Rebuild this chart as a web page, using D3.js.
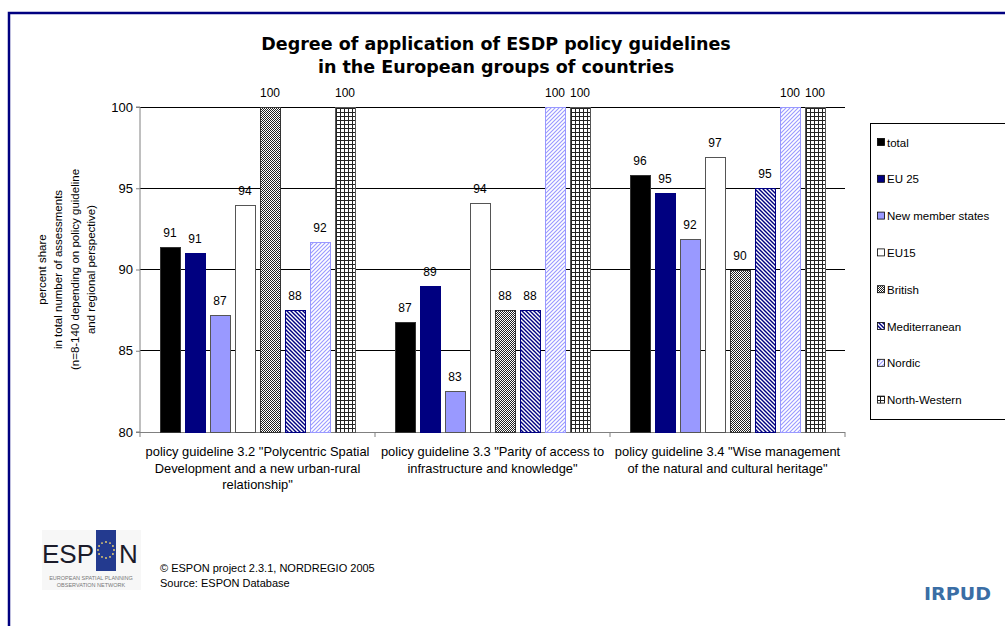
<!DOCTYPE html>
<html><head><meta charset="utf-8">
<script src="https://cdn.jsdelivr.net/npm/d3@7"></script>
<style>body{margin:0;background:#fff}svg{display:block}</style>
</head><body>
<svg id="c" width="1005" height="626"></svg>
<script>
const categories = [
  ['policy guideline 3.2 "Polycentric Spatial', 'Development and a new urban-rural', 'relationship"'],
  ['policy guideline 3.3 "Parity of access to', 'infrastructure and knowledge"'],
  ['policy guideline 3.4 "Wise management', 'of the natural and cultural heritage"']
];
const seriesNames = ["total","EU 25","New member states","EU15","British","Mediterranean","Nordic","North-Western"];
const total        = [91.4, 86.8, 95.8];
const eu25         = [91.0, 89.0, 94.7];
const newMember    = [87.2, 82.5, 91.9];
const eu15         = [94.0, 94.1, 96.9];
const british      = [100, 87.5, 90.0];
const mediterranean= [87.5, 87.5, 95.0];
const nordic       = [91.7, 100, 100];
const northWestern = [100, 100, 100];
const yTicks = [80, 85, 90, 95, 100];
const seriesValues = [total, eu25, newMember, eu15, british, mediterranean, nordic, northWestern];

const svg = d3.select("#c");
const defs = svg.append("defs");
// patterns
const pBr = defs.append("pattern").attr("id","pBr").attr("width",2).attr("height",2).attr("patternUnits","userSpaceOnUse");
pBr.append("rect").attr("width",2).attr("height",2).attr("fill","#fff");
pBr.append("rect").attr("width",1).attr("height",1).attr("fill","#222");
pBr.append("rect").attr("x",1).attr("y",1).attr("width",1).attr("height",1).attr("fill","#222");
const pMed = defs.append("pattern").attr("id","pMed").attr("width",4).attr("height",4).attr("patternUnits","userSpaceOnUse");
pMed.append("rect").attr("width",4).attr("height",4).attr("fill","#fff");
pMed.append("path").attr("d","M-1,-1L5,5M-1,3L1,5M3,-1L5,1").attr("stroke","#000080").attr("stroke-width",1.4);
const pNo = defs.append("pattern").attr("id","pNo").attr("width",4).attr("height",4).attr("patternUnits","userSpaceOnUse");
pNo.append("rect").attr("width",4).attr("height",4).attr("fill","#fff");
pNo.append("path").attr("d","M-1,5L5,-1M-1,1L1,-1M3,5L5,3").attr("stroke","#9999ff").attr("stroke-width",1.1);
const pNW = defs.append("pattern").attr("id","pNW").attr("width",4).attr("height",4).attr("patternUnits","userSpaceOnUse");
pNW.append("rect").attr("width",4).attr("height",4).attr("fill","#fff");
pNW.append("path").attr("d","M0,0.5H4M0.5,0V4").attr("stroke","#222").attr("stroke-width",1).attr("shape-rendering","crispEdges");

const fills = ["#000000","#000080","#9999ff","#ffffff","url(#pBr)","url(#pMed)","url(#pNo)","url(#pNW)"];
const strokes = ["#333","#000080","#555","#555","#333","#000080","#9999ff","#555"];

// frame
svg.append("path").attr("d","M9,626V13H1005").attr("fill","none").attr("stroke","#000080").attr("stroke-width",2.5);

// title
const title = svg.append("text").attr("x",496).attr("text-anchor","middle")
  .style("font-family","'DejaVu Sans', Verdana, sans-serif").style("font-weight","bold").style("font-size","17.5px");
title.append("tspan").attr("x",496).attr("y",50).text("Degree of application of ESDP policy guidelines");
title.append("tspan").attr("x",496).attr("y",73).text("in the European groups of countries");

const pL = 140, pR = 845, pT = 107, pB = 432;
const x0 = d3.scaleBand().domain(d3.range(categories.length)).range([pL, pR]).paddingInner(0).paddingOuter(0);
const x1 = d3.scaleBand().domain(d3.range(seriesNames.length)).range([17.5, x0.bandwidth()-17.5]).paddingInner(0.2).paddingOuter(0.1);
const y = d3.scaleLinear().domain([80,100]).range([pB, pT]);

// gridlines
svg.append("g").selectAll("line").data(yTicks.filter(t=>t>80)).join("line")
  .attr("x1",pL).attr("x2",pR).attr("y1",d=>y(d)).attr("y2",d=>y(d))
  .attr("stroke","#000").attr("stroke-width",1).attr("shape-rendering","crispEdges");

// y axis
const ya = svg.append("g").attr("transform",`translate(${pL},0)`)
  .call(d3.axisLeft(y).tickValues(yTicks).tickSize(4).tickPadding(3));
ya.select(".domain").attr("stroke","#808080").attr("d",`M-4,${pT}H0V${pB}H-4`);
ya.selectAll(".tick line").attr("stroke","#808080");
ya.selectAll("text").style("font-family","Arial, 'Liberation Sans', sans-serif").style("font-size","13px").attr("fill","#000");

// x axis
const xa = svg.append("g").attr("transform",`translate(0,${pB})`);
xa.append("line").attr("x1",pL).attr("x2",pR).attr("stroke","#808080").attr("shape-rendering","crispEdges");
xa.selectAll("line.t").data(d3.range(categories.length+1)).join("line").attr("class","t")
  .attr("x1",(d,i)=> i<categories.length ? x0(d) : pR).attr("x2",(d,i)=> i<categories.length ? x0(d) : pR)
  .attr("y1",0).attr("y2",5).attr("stroke","#808080");
categories.forEach((lines,i)=>{
  const t = xa.append("text").attr("text-anchor","middle")
    .style("font-family","Arial, 'Liberation Sans', sans-serif").style("font-size","12.9px");
  lines.forEach((l,j)=>t.append("tspan").attr("x",x0(i)+x0.bandwidth()/2).attr("y",24+j*16.5).text(l));
});

// bars
const groups = svg.append("g").selectAll("g").data(categories).join("g")
  .attr("transform",(d,i)=>`translate(${Math.round(x0(i))},0)`);
groups.each(function(_,ci){
  const g = d3.select(this);
  seriesValues.forEach((vals,si)=>{
    const v = vals[ci];
    g.append("rect").attr("x",Math.round(x1(si))+0.5).attr("width",Math.round(x1.bandwidth()))
      .attr("y",Math.round(y(v))+0.5).attr("height",pB-Math.round(y(v)))
      .attr("fill",fills[si]).attr("stroke",strokes[si]).attr("stroke-width",1);
    g.append("text").attr("x",x1(si)+x1.bandwidth()/2).attr("y",y(v)-10)
      .attr("text-anchor","middle")
      .style("font-family","Arial, 'Liberation Sans', sans-serif").style("font-size","12px")
      .text(Math.round(v));
  });
});

// y title
const yt = svg.append("text").attr("transform",`translate(0,${(pT+pB)/2}) rotate(-90)`).attr("text-anchor","middle")
  .style("font-family","Arial, 'Liberation Sans', sans-serif").style("font-size","11.5px");
["percent share","in total number of assessments","(n=8-140 depending on policy guideline","and regional perspective)"]
  .forEach((l,j)=>yt.append("tspan").attr("x",0).attr("y",46+j*16.3).text(l));

// legend
const lg = svg.append("g");
lg.append("rect").attr("x",870.5).attr("y",123.5).attr("width",140).attr("height",296).attr("fill","#fff").attr("stroke","#000");
seriesNames.forEach((n,i)=>{
  const yy = 143 + i*36.8;
  lg.append("rect").attr("x",877.5).attr("y",yy-4.5).attr("width",7).attr("height",7)
    .attr("fill",fills[i]).attr("stroke","#000").attr("stroke-width",0.8);
  lg.append("text").attr("x",887).attr("y",yy+3.5)
    .style("font-family","Arial, 'Liberation Sans', sans-serif").style("font-size","11.5px").text(n);
});

// footer: ESPON logo
const logo = svg.append("g");
logo.append("rect").attr("x",42).attr("y",530).attr("width",99).attr("height",60).attr("fill","#f7f7f7");
logo.append("rect").attr("x",96).attr("y",530).attr("width",20).attr("height",41).attr("fill","#233a8f");
logo.append("text").attr("x",42).attr("y",563).style("font-family","'Liberation Sans', Arial, sans-serif").style("font-size","26px").attr("fill","#1b1b2a").attr("textLength",52).text("ESP");
logo.append("text").attr("x",119).attr("y",563).style("font-family","'Liberation Sans', Arial, sans-serif").style("font-size","26px").attr("fill","#1b1b2a").text("N");
d3.range(12).forEach(k=>{
  const a = k*Math.PI/6;
  logo.append("circle").attr("cx",106+8*Math.cos(a)).attr("cy",550+8*Math.sin(a)).attr("r",0.9).attr("fill","#f5d76e");
});
logo.append("text").attr("x",91).attr("y",580).attr("text-anchor","middle").style("font-family","Arial, sans-serif").style("font-size","5.5px").attr("fill","#777").text("EUROPEAN SPATIAL PLANNING");
logo.append("text").attr("x",91).attr("y",587).attr("text-anchor","middle").style("font-family","Arial, sans-serif").style("font-size","5.5px").attr("fill","#777").text("OBSERVATION NETWORK");

svg.append("text").attr("x",160).attr("y",572).style("font-family","Arial, 'Liberation Sans', sans-serif").style("font-size","11px").text("© ESPON project 2.3.1, NORDREGIO 2005");
svg.append("text").attr("x",160).attr("y",587).style("font-family","Arial, 'Liberation Sans', sans-serif").style("font-size","11px").text("Source: ESPON Database");
svg.append("text").attr("x",924).attr("y",600).style("font-family","'DejaVu Sans', Verdana, sans-serif").style("font-weight","bold").style("font-size","17px").attr("fill","#3a6ea5").attr("textLength",67).attr("lengthAdjust","spacingAndGlyphs").text("IRPUD");
</script>
</body></html>
